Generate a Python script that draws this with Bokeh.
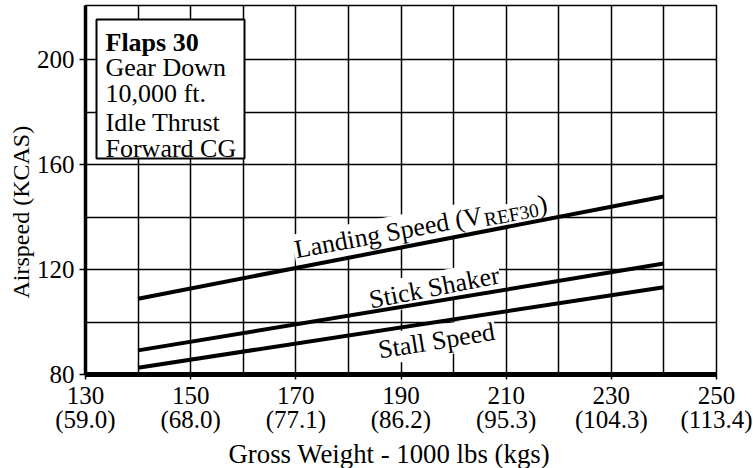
import math
from bokeh.plotting import figure
from bokeh.models import FixedTicker, BoxAnnotation, Label, Title
from bokeh.core.properties import value
from bokeh.embed import file_html
from bokeh.resources import INLINE

# ---------------- data ----------------
gross_weight = [140, 240]              # 1000 lbs
landing_speed = [108.9, 147.9]         # VREF30, KCAS
stick_shaker = [89.2, 122.3]           # KCAS
stall_speed = [82.6, 113.3]            # KCAS

x_tick_lbs = [130, 150, 170, 190, 210, 230, 250]
x_tick_kgs = ["(59.0)", "(68.0)", "(77.1)", "(86.2)", "(95.3)", "(104.3)", "(113.4)"]
y_ticks = [80, 120, 160, 200]
x_grid = [140, 150, 160, 170, 180, 190, 200, 210, 220, 230, 240]
y_grid = [100, 120, 140, 160, 180, 200]

info_title = "Flaps 30"
info_lines = ["Gear Down", "10,000 ft.", "Idle Thrust", "Forward CG"]

x_title = "Gross Weight - 1000 lbs (kgs)"
y_title = "Airspeed (KCAS)"

# ---------------- layout ----------------
FONT = "Liberation Serif"
X0, X1 = 130, 250
Y0, Y1 = 80, 220.7
FW, FH = 631, 369
BL, BR, BT, BB = 85, 37, 5, 94

ppx = FW / (X1 - X0)
ppy = FH / (Y1 - Y0)


def fx(px):
    """pixels from frame left -> data x"""
    return X0 + px / ppx


def fy(py):
    """pixels from frame top -> data y"""
    return Y1 - py / ppy


p = figure(frame_width=FW, frame_height=FH, x_range=(X0, X1), y_range=(Y0, Y1),
           output_backend="svg", toolbar_location=None,
           min_border_left=BL, min_border_right=BR, min_border_top=BT, min_border_bottom=BB)
p.background_fill_color = "white"
p.border_fill_color = "white"
p.outline_line_color = "black"
p.outline_line_width = 1.5

# axes
p.xaxis.ticker = FixedTicker(ticks=x_tick_lbs)
p.xaxis.major_label_overrides = {v: f"{v}\n{k}" for v, k in zip(x_tick_lbs, x_tick_kgs)}
p.yaxis.ticker = FixedTicker(ticks=y_ticks)
for ax in (p.xaxis, p.yaxis):
    ax.axis_line_color = "black"
    ax.major_tick_line_color = "black"
    ax.major_tick_line_width = 1.5
    ax.major_tick_in = 0
    ax.minor_tick_in = 0
    ax.minor_tick_out = 0
    ax.major_label_text_font = FONT
    ax.major_label_text_font_size = "25px"
    ax.major_label_text_color = "black"
p.xaxis.axis_line_width = 5
p.xaxis.major_tick_out = 5
p.xaxis.major_label_standoff = 2
p.xaxis.major_label_text_line_height = 0.9
p.yaxis.axis_line_width = 3.5
p.yaxis.major_tick_out = 6
p.yaxis.major_label_standoff = 5

# axis titles (as side titles so they can be offset like the reference)
p.add_layout(Title(text=y_title, align="left", offset=76, standoff=0,
                   text_font=FONT, text_font_size="24px", text_font_style="normal",
                   text_color="black"), "left")
p.add_layout(Title(text=x_title, align="left", offset=143, standoff=2,
                   text_font=FONT, text_font_size="26.8px", text_font_style="normal",
                   text_color="black"), "below")

# grids
p.xgrid.ticker = FixedTicker(ticks=x_grid)
p.ygrid.ticker = FixedTicker(ticks=y_grid)
for g in (p.xgrid, p.ygrid):
    g.grid_line_color = "black"
    g.grid_line_alpha = 1
    g.grid_line_width = 1.5


# curve labels (rotated, white background)
def curve_label(x0, y0, deg, pieces):
    th = math.radians(deg)
    for txt, size, d, q in pieces:
        x = x0 + (d * math.cos(th) + q * math.sin(th)) / ppx
        y = y0 + (d * math.sin(th) - q * math.cos(th)) / ppy
        p.text(x=[x], y=[y], text=[txt], angle=th,
               text_font=value(FONT), text_font_size=size, text_color="black",
               text_align="left", text_baseline="alphabetic",
               background_fill_color="white", padding=1)


curve_label(169.6, 127.4, 10.5, [("Landing Speed (V", "26px", 0, 0),
                                  ("REF30", "19.5px", 192, 5),
                                  (")", "26px", 248, 0)])
curve_label(183.8, 108.3, 11.0, [("Stick Shaker", "26px", 0, 0)])
curve_label(185.5, 89.2, 9.2, [("Stall Speed", "26px", 0, 0)])

# curves
for series in (landing_speed, stick_shaker, stall_speed):
    p.line(gross_weight, series, line_color="black", line_width=4, line_cap="butt")

# info box
p.add_layout(BoxAnnotation(left=fx(11), right=fx(159), top=fy(14), bottom=fy(153),
                           fill_color="white", fill_alpha=1,
                           line_color="black", line_alpha=1, line_width=2))
p.add_layout(Label(x=fx(20), y=fy(36.7), text=info_title, text_font=FONT,
                   text_font_size="26px", text_font_style="bold", text_color="black",
                   text_baseline="alphabetic"))
for txt, b in zip(info_lines, [62.3, 87.7, 117.3, 143.3]):
    p.add_layout(Label(x=fx(20), y=fy(b), text=txt, text_font=FONT,
                       text_font_size="26px", text_color="black",
                       text_baseline="alphabetic"))

open("out.html", "w").write(file_html(p, INLINE))
